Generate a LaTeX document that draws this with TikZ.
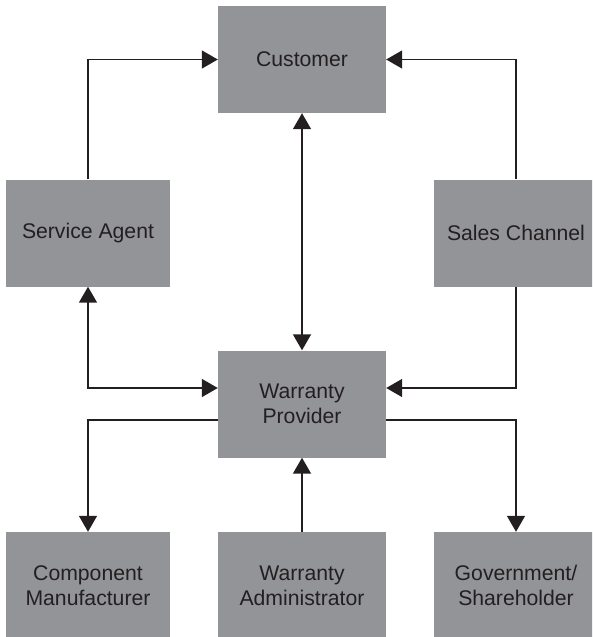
\documentclass[tikz,border=0pt]{standalone}
\usepackage{fontspec}
\setmainfont{Liberation Sans}
\usetikzlibrary{arrows.meta}
\definecolor{boxgray}{RGB}{147,148,152}
\definecolor{ink}{RGB}{35,31,32}
\begin{document}
\begin{tikzpicture}[x=1pt,y=-1pt,
  box/.style={fill=boxgray,draw=none,minimum height=107pt,inner sep=0pt,align=center,
    text=ink,font=\fontsize{21.2}{25}\selectfont},
  wide/.style={box,minimum width=168pt},
  narrow/.style={box,minimum width=164pt},
  conn/.style={draw=ink,line width=1.5pt,-{Triangle[length=16pt,width=18pt]}},
  bconn/.style={draw=ink,line width=1.5pt,{Triangle[length=16pt,width=18pt]}-{Triangle[length=16pt,width=18pt]}}]
\useasboundingbox (0,0) rectangle (592,637);
\begin{scope}
\clip (0,0) rectangle (592,637);
\node[wide] (cust) at (302,59.5) {Customer};
\node[narrow] (sa) at (88,233) {Service Agent};
\node[narrow] (sc) at (516,233) {Sales Channel};
\node[wide] (wp) at (302,404) {Warranty\\Provider};
\node[narrow] (cm) at (88,585.5) {Component\\Manufacturer};
\node[wide] (wa) at (302,585.5) {Warranty\\Administrator};
\node[narrow] (gs) at (516,585.5) {Government/\\Shareholder};
\end{scope}
\draw[conn] (sa.north) |- (cust.west);
\draw[conn] (sc.north) |- (cust.east);
\draw[bconn] (cust.south) -- (wp.north);
\draw[bconn] (sa.south) |- ([yshift=16pt]wp.west);
\draw[conn] (sc.south) |- ([yshift=16pt]wp.east);
\draw[conn] ([yshift=-16pt]wp.west) -| (cm.north);
\draw[conn] ([yshift=-16pt]wp.east) -| (gs.north);
\draw[conn] (wa.north) -- (wp.south);
\end{tikzpicture}
\end{document}
